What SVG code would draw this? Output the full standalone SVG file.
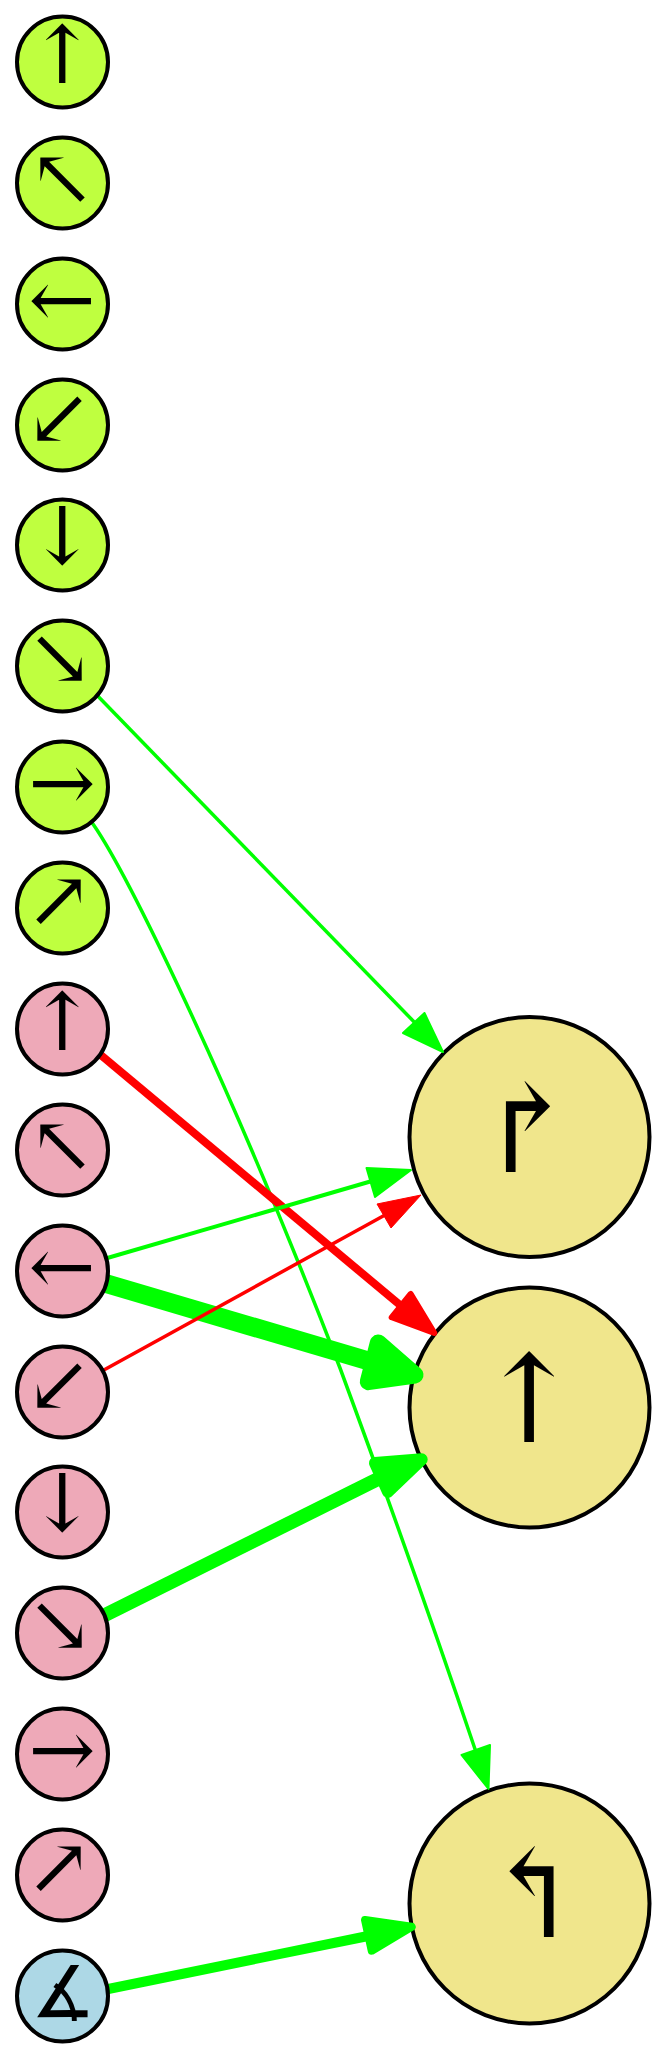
<svg xmlns="http://www.w3.org/2000/svg" width="667" height="2058" viewBox="0 0 667 2058">
<style>
.n{stroke:#000;stroke-width:4}
.a{fill:#BFFF3F}.b{fill:#EEA9B8}.c{fill:#ADD8E6}.d{fill:#F0E68C}
text{font-family:"DejaVu Serif",serif;text-anchor:middle;fill:#000}
.s{font-size:80px}.l{font-size:122px}
.g{stroke:#0f0;fill:none}.gh{fill:#0f0;stroke:#0f0;stroke-linejoin:round}
.r{stroke:#f00;fill:none}.rh{fill:#f00;stroke:#f00;stroke-linejoin:round}
</style>
<rect width="667" height="2058" fill="#fff"/>
<g id="t0"><circle class="n d" cx="529.500" cy="1137" r="120"/><text class="l" x="527" y="1172">↱</text></g>
<g id="t1"><circle class="n d" cx="529.500" cy="1407.500" r="120"/><text class="l" x="529" y="1442">↑</text></g>
<g id="t2"><circle class="n d" cx="529.500" cy="1903.500" r="120"/><text class="l" x="532" y="1937">↰</text></g>
<g id="connectors">
<path class="g" stroke-width="3.500" d="M90,688L420,1028"/><polygon class="gh" stroke-width="2" points="443,1052 424.500,1013 403,1033"/>
<path class="g" stroke-width="3.500" d="M86,814L93,824C125,870 225,1070 340,1368C385,1490 445,1660 476,1752"/><polygon class="gh" stroke-width="2" points="488.500,1789 490,1745 461.500,1755"/>
<path class="r" stroke-width="8" d="M90,1046L400,1305"/><polygon class="rh" stroke-width="6" points="434.300,1333 410.700,1294 391.700,1317.300"/>
<path class="g" stroke-width="4" d="M97,1261L372,1181"/><polygon class="gh" stroke-width="2" points="411,1170 366.500,1168 375,1197"/>
<path class="g" stroke-width="19" d="M94,1280L372,1362"/><polygon class="gh" stroke-width="17" points="415,1375 378.300,1343 368.300,1381.700"/>
<path class="r" stroke-width="3.500" d="M93,1376L385,1215"/><polygon class="rh" stroke-width="1" points="421,1195 377,1204 391,1228"/>
<path class="g" stroke-width="14" d="M95,1620L380,1478"/><polygon class="gh" stroke-width="12" points="421.700,1459.300 375,1463 388,1491.700"/>
<path class="g" stroke-width="10" d="M96,1991.500L368,1936"/><polygon class="gh" stroke-width="8" points="411.700,1926.700 365,1920 371.700,1950.700"/>
</g>
<g id="n0"><circle class="n a" cx="62.500" cy="62" r="45.500"/><text class="s" x="62" y="83">↑</text></g>
<g id="n1"><circle class="n a" cx="62.500" cy="183" r="45.500"/><text class="s" x="62" y="205">↖</text></g>
<g id="n2"><circle class="n a" cx="62.500" cy="304" r="45.500"/><text class="s" x="62" y="327">←</text></g>
<g id="n3"><circle class="n a" cx="62.500" cy="425" r="45.500"/><text class="s" x="59" y="445">↙</text></g>
<g id="n4"><circle class="n a" cx="62.500" cy="545" r="45.500"/><text class="s" x="62" y="564">↓</text></g>
<g id="n5"><circle class="n a" cx="62.500" cy="666" r="45.500"/><text class="s" x="60" y="685">↘</text></g>
<g id="n6"><circle class="n a" cx="62.500" cy="787" r="45.500"/><text class="s" x="62" y="810">→</text></g>
<g id="n7"><circle class="n a" cx="62.500" cy="908" r="45.500"/><text class="s" x="59" y="926.500">↗</text></g>
<g id="n8"><circle class="n b" cx="62.500" cy="1029" r="45.500"/><text class="s" x="62" y="1050">↑</text></g>
<g id="n9"><circle class="n b" cx="62.500" cy="1150" r="45.500"/><text class="s" x="62" y="1172">↖</text></g>
<g id="n10"><circle class="n b" cx="62.500" cy="1271" r="45.500"/><text class="s" x="62" y="1294">←</text></g>
<g id="n11"><circle class="n b" cx="62.500" cy="1392" r="45.500"/><text class="s" x="59" y="1412">↙</text></g>
<g id="n12"><circle class="n b" cx="62.500" cy="1512" r="45.500"/><text class="s" x="62" y="1531">↓</text></g>
<g id="n13"><circle class="n b" cx="62.500" cy="1633" r="45.500"/><text class="s" x="60" y="1652">↘</text></g>
<g id="n14"><circle class="n b" cx="62.500" cy="1754" r="45.500"/><text class="s" x="62" y="1777">→</text></g>
<g id="n15"><circle class="n b" cx="62.500" cy="1875" r="45.500"/><text class="s" x="59" y="1893.500">↗</text></g>
<g id="n16"><circle class="n c" cx="62.500" cy="1996" r="45.500"/><text x="63" y="2017" font-size="72">∡</text></g>
</svg>
